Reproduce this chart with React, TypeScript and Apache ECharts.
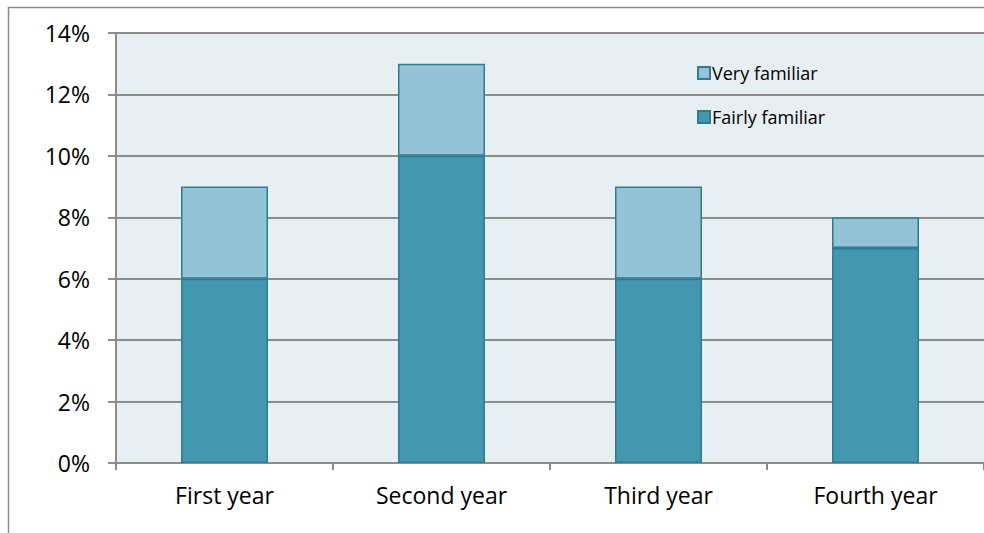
import React, { useEffect, useRef } from "react";
import * as echarts from "echarts";

const categories = ["First year", "Second year", "Third year", "Fourth year"];
const fairlyFamiliar = [6, 10, 6, 7];
const veryFamiliar = [3, 3, 3, 1];
const yTicks = { min: 0, max: 14, interval: 2 };

export default function App() {
  const ref = useRef<HTMLDivElement>(null);
  useEffect(() => {
    const chart = echarts.init(ref.current!, null, { renderer: "svg" });
    const font = "'Open Sans', sans-serif";
    chart.setOption({
      animation: false,
      textStyle: { fontFamily: font },
      graphic: [
        {
          type: "polyline",
          shape: { points: [[8.5, 540], [8.5, 7.5], [990, 7.5]] },
          style: { stroke: "#8C8C8C", lineWidth: 1.5, fill: "none" },
          silent: true,
        },
      ],
      grid: {
        left: 116,
        top: 33,
        right: 0,
        bottom: 70,
        show: true,
        backgroundColor: "#E8EFF3",
        borderWidth: 0,
      },
      legend: {
        orient: "vertical",
        left: 692,
        top: 56,
        itemWidth: 12,
        itemHeight: 12,
        itemGap: 20,
        icon: "rect",
        data: ["Very familiar", "Fairly familiar"],
        textStyle: { fontSize: 18, lineHeight: 24, color: "#000", fontFamily: font, padding: [0, 0, 0, -3] },
      },
      xAxis: {
        type: "category",
        data: categories,
        boundaryGap: true,
        axisLine: { show: true, lineStyle: { color: "#8C8C8C", width: 2 } },
        axisTick: { show: true, length: 7, lineStyle: { color: "#8C8C8C", width: 2 } },
        axisLabel: { fontSize: 23, color: "#000", margin: 20, fontFamily: font },
      },
      yAxis: {
        type: "value",
        min: yTicks.min,
        max: yTicks.max,
        interval: yTicks.interval,
        axisLine: { show: true, lineStyle: { color: "#8C8C8C", width: 2 } },
        axisTick: { show: true, length: 8, lineStyle: { color: "#8C8C8C", width: 2 } },
        splitLine: { show: true, lineStyle: { color: "#8C8C8C", width: 2 } },
        axisLabel: { fontSize: 23, color: "#000", margin: 26, formatter: "{value}%", fontFamily: font },
      },
      series: [
        {
          name: "Fairly familiar",
          type: "bar",
          stack: "total",
          barWidth: 87,
          data: fairlyFamiliar,
          itemStyle: { color: "#4397AF", borderColor: "#2E7C92", borderWidth: 1.5 },
        },
        {
          name: "Very familiar",
          type: "bar",
          stack: "total",
          barWidth: 87,
          data: veryFamiliar,
          itemStyle: { color: "#93C3D4", borderColor: "#2E7C92", borderWidth: 1.5 },
        },
      ],
    });
    return () => chart.dispose();
  }, []);
  return (
    <div
      ref={ref}
      style={{ position: "fixed", left: 0, top: 0, width: 984, height: 533, background: "#fff" }}
    />
  );
}
